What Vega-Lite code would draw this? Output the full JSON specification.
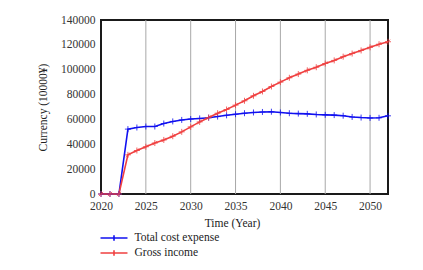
{
  "$schema": "https://vega.github.io/schema/vega-lite/v6.json",
  "autosize": {"type": "none"},
  "width": 287,
  "height": 174,
  "padding": {"left": 101, "top": 20, "right": 35, "bottom": 76},
  "background": "white",
  "config": {
    "font": "Liberation Serif",
    "view": {"stroke": "#1a1a1a", "strokeWidth": 2},
    "axis": {"labelOverlap": false}
  },
  "datasets": {
    "gridx": [{"year": 2025}, {"year": 2030}, {"year": 2035}, {"year": 2040}, {"year": 2045}, {"year": 2050}],
    "main": [
      {"year": 2020, "series": "Total cost expense", "value": 0},
      {"year": 2021, "series": "Total cost expense", "value": 0},
      {"year": 2022, "series": "Total cost expense", "value": 0},
      {"year": 2023, "series": "Total cost expense", "value": 52200},
      {"year": 2024, "series": "Total cost expense", "value": 53500},
      {"year": 2025, "series": "Total cost expense", "value": 54300},
      {"year": 2026, "series": "Total cost expense", "value": 54300},
      {"year": 2027, "series": "Total cost expense", "value": 56700},
      {"year": 2028, "series": "Total cost expense", "value": 58400},
      {"year": 2029, "series": "Total cost expense", "value": 59600},
      {"year": 2030, "series": "Total cost expense", "value": 60300},
      {"year": 2031, "series": "Total cost expense", "value": 60800},
      {"year": 2032, "series": "Total cost expense", "value": 61400},
      {"year": 2033, "series": "Total cost expense", "value": 62300},
      {"year": 2034, "series": "Total cost expense", "value": 63300},
      {"year": 2035, "series": "Total cost expense", "value": 64200},
      {"year": 2036, "series": "Total cost expense", "value": 65000},
      {"year": 2037, "series": "Total cost expense", "value": 65600},
      {"year": 2038, "series": "Total cost expense", "value": 66000},
      {"year": 2039, "series": "Total cost expense", "value": 66200},
      {"year": 2040, "series": "Total cost expense", "value": 65600},
      {"year": 2041, "series": "Total cost expense", "value": 65000},
      {"year": 2042, "series": "Total cost expense", "value": 64700},
      {"year": 2043, "series": "Total cost expense", "value": 64500},
      {"year": 2044, "series": "Total cost expense", "value": 64000},
      {"year": 2045, "series": "Total cost expense", "value": 63700},
      {"year": 2046, "series": "Total cost expense", "value": 63500},
      {"year": 2047, "series": "Total cost expense", "value": 63000},
      {"year": 2048, "series": "Total cost expense", "value": 62000},
      {"year": 2049, "series": "Total cost expense", "value": 61500},
      {"year": 2050, "series": "Total cost expense", "value": 61200},
      {"year": 2051, "series": "Total cost expense", "value": 61300},
      {"year": 2052, "series": "Total cost expense", "value": 62900},
      {"year": 2020, "series": "Gross income", "value": 0},
      {"year": 2021, "series": "Gross income", "value": 0},
      {"year": 2022, "series": "Gross income", "value": 0},
      {"year": 2023, "series": "Gross income", "value": 31500},
      {"year": 2024, "series": "Gross income", "value": 35000},
      {"year": 2025, "series": "Gross income", "value": 38000},
      {"year": 2026, "series": "Gross income", "value": 41000},
      {"year": 2027, "series": "Gross income", "value": 43500},
      {"year": 2028, "series": "Gross income", "value": 46500},
      {"year": 2029, "series": "Gross income", "value": 50000},
      {"year": 2030, "series": "Gross income", "value": 54000},
      {"year": 2031, "series": "Gross income", "value": 58000},
      {"year": 2032, "series": "Gross income", "value": 61500},
      {"year": 2033, "series": "Gross income", "value": 65000},
      {"year": 2034, "series": "Gross income", "value": 68000},
      {"year": 2035, "series": "Gross income", "value": 71500},
      {"year": 2036, "series": "Gross income", "value": 75000},
      {"year": 2037, "series": "Gross income", "value": 79000},
      {"year": 2038, "series": "Gross income", "value": 82500},
      {"year": 2039, "series": "Gross income", "value": 86500},
      {"year": 2040, "series": "Gross income", "value": 90000},
      {"year": 2041, "series": "Gross income", "value": 93500},
      {"year": 2042, "series": "Gross income", "value": 96500},
      {"year": 2043, "series": "Gross income", "value": 99500},
      {"year": 2044, "series": "Gross income", "value": 102000},
      {"year": 2045, "series": "Gross income", "value": 105000},
      {"year": 2046, "series": "Gross income", "value": 107500},
      {"year": 2047, "series": "Gross income", "value": 110500},
      {"year": 2048, "series": "Gross income", "value": 113000},
      {"year": 2049, "series": "Gross income", "value": 115500},
      {"year": 2050, "series": "Gross income", "value": 118000},
      {"year": 2051, "series": "Gross income", "value": 120500},
      {"year": 2052, "series": "Gross income", "value": 122500}
    ]
  },
  "layer": [
    {"data": {"name": "gridx"}, "mark": {"type": "rule", "stroke": "#a8a8a8", "strokeWidth": 1},
      "encoding": {"x": {"field": "year", "type": "quantitative", "scale": {"domain": [2020, 2052], "nice": false, "zero": false},
          "axis": {"values": [2020, 2025, 2030, 2035, 2040, 2045, 2050], "format": "d", "grid": false, "domain": false, "tickSize": 0, "labelOverlap": false, "labelFont": "Liberation Serif", "labelFontSize": 11.5, "labelColor": "#333", "labelPadding": 6, "labelFlush": false, "title": "Time (Year)", "titleFont": "Liberation Serif", "titleFontSize": 11.5, "titleFontWeight": "normal", "titleColor": "#222", "titleX": 131, "titleY": 29, "titleBaseline": "middle", "titleAlign": "center"}}}},
    {"data": {"name": "main"},
      "encoding": {
        "x": {"field": "year", "type": "quantitative", "scale": {"domain": [2020, 2052], "nice": false, "zero": false},
          "axis": {"values": [2020, 2025, 2030, 2035, 2040, 2045, 2050], "format": "d", "grid": false, "domain": false, "tickSize": 0, "labelOverlap": false, "labelFont": "Liberation Serif", "labelFontSize": 11.5, "labelColor": "#333", "labelPadding": 6, "labelFlush": false, "title": "Time (Year)", "titleFont": "Liberation Serif", "titleFontSize": 11.5, "titleFontWeight": "normal", "titleColor": "#222", "titleX": 131, "titleY": 29, "titleBaseline": "middle", "titleAlign": "center"}},
        "y": {"field": "value", "type": "quantitative", "scale": {"domain": [0, 140000], "nice": false},
          "axis": {"values": [0, 20000, 40000, 60000, 80000, 100000, 120000, 140000], "format": "d", "grid": false, "domain": false, "tickSize": 0, "labelOverlap": false, "labelFont": "Liberation Serif", "labelFontSize": 11.5, "labelColor": "#333", "labelPadding": 6, "labelFlush": false, "title": "Currency (10000¥)", "titleFont": "Liberation Serif", "titleFontSize": 11.5, "titleFontWeight": "normal", "titleColor": "#222", "titleX": -58, "titleY": 87, "titleAngle": -90, "titleAlign": "center", "titleBaseline": "middle"}}
      },
      "layer": [
        {"mark": {"type": "line", "strokeWidth": 1.6},
          "encoding": {
            "color": {"field": "series", "type": "nominal",
              "scale": {"domain": ["Total cost expense", "Gross income"], "range": ["#1010f0", "#f04040"]},
              "legend": {"orient": "none", "legendX": 5, "legendY": 210, "title": null, "symbolType": "M-2,0H2M0,-0.4V0.4", "symbolSize": 182, "symbolStrokeWidth": 1.6, "labelFont": "Liberation Serif", "labelFontSize": 11.5, "labelColor": "#222", "labelOffset": 12.5, "rowPadding": 1}}}},
        {"transform": [{"filter": "datum.series === 'Total cost expense'"}],
          "mark": {"type": "point", "filled": false, "strokeWidth": 1, "size": 36, "opacity": 0.8, "stroke": "#1010f0", "shape": "M-1,0H1M0,-1V1"}},
        {"transform": [{"filter": "datum.series === 'Gross income'"}],
          "mark": {"type": "point", "filled": false, "strokeWidth": 1, "size": 36, "opacity": 0.8, "stroke": "#f04040", "shape": "M-1,0H1M0,-1V1M-0.7,0.7L0.7,-0.7"}}
      ]}
  ]
}
